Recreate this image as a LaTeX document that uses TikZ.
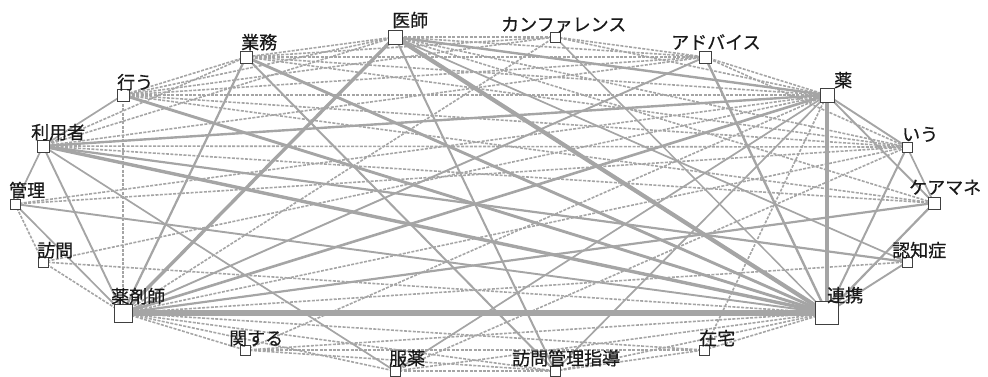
\documentclass[tikz,border=0pt]{standalone}
\usepackage{fontspec}
\setmainfont{Noto Sans CJK JP}
\newfontfamily\labfont{Noto Sans CJK JP}[FakeBold=0.6]
\pgfdeclarelayer{edgelayer}
\pgfsetlayers{edgelayer,main}
\begin{document}
\begin{tikzpicture}[x=1pt,y=-1pt,
  sq/.style={draw=black!75,fill=white,line width=1pt,inner sep=0pt,shape=rectangle},
  lab/.style={inner sep=0pt,anchor=base west,font=\labfont\fontsize{18}{18}\selectfont,text=black!90},
  sol/.style={draw=edgec,line width=#1},
  sol/.default=1.8pt,
  dsh/.style={draw=edgec,line width=1.6pt,dash pattern=on 3pt off 1.4pt}]
\definecolor{edgec}{RGB}{165,165,165}
\useasboundingbox (0,0) rectangle (988,376);
% nodes
\node[sq,minimum size=14pt] (ishi) at (395,37) {};
\node[sq,minimum size=10pt] (conf) at (555,37) {};
\node[sq,minimum size=12pt] (gyomu) at (246,57) {};
\node[sq,minimum size=12pt] (adv) at (705,57) {};
\node[sq,minimum size=12pt] (okonau) at (123,95) {};
\node[sq,minimum size=14pt] (kusuri) at (827,95) {};
\node[sq,minimum size=12pt] (riyo) at (43,146) {};
\node[sq,minimum size=10pt] (iu) at (907,147) {};
\node[sq,minimum size=10pt] (kanri) at (15,204) {};
\node[sq,minimum size=12pt] (care) at (934,203) {};
\node[sq,minimum size=10pt] (houmon) at (43,262) {};
\node[sq,minimum size=10pt] (ninchi) at (907,262) {};
\node[sq,minimum size=18pt] (yaku) at (123,313) {};
\node[sq,minimum size=23pt] (renkei) at (827,313) {};
\node[sq,minimum size=10pt] (kansuru) at (245,350) {};
\node[sq,minimum size=10pt] (zaitaku) at (704,350) {};
\node[sq,minimum size=10pt] (fuku) at (395,371) {};
\node[sq,minimum size=10pt] (hkanri) at (555,371) {};
% labels
\node[lab] (l-ishi) at (392,27) {医師};
\node[lab] (l-conf) at (501,31) {カンファレンス};
\node[lab] (l-gyomu) at (241,49) {業務};
\node[lab] (l-adv) at (671,49) {アドバイス};
\node[lab] (l-okonau) at (117,89) {行う};
\node[lab] (l-kusuri) at (834,87) {薬};
\node[lab] (l-riyo) at (31,139) {利用者};
\node[lab] (l-iu) at (902,141) {いう};
\node[lab] (l-kanri) at (9,197) {管理};
\node[lab] (l-care) at (909,194) {ケアマネ};
\node[lab] (l-houmon) at (37,257) {訪問};
\node[lab] (l-ninchi) at (892,257) {認知症};
\node[lab] (l-yaku) at (111,303) {薬剤師};
\node[lab] (l-renkei) at (827,302) {連携};
\node[lab] (l-kansuru) at (229,345) {関する};
\node[lab] (l-zaitaku) at (699,345) {在宅};
\node[lab] (l-fuku) at (389,365) {服薬};
\node[lab] (l-hkanri) at (512,365) {訪問管理指導};
\begin{pgfonlayer}{edgelayer}
% dashed edges
\foreach \a/\b in {ishi/conf,ishi/adv,ishi/gyomu,ishi/okonau,ishi/iu,ishi/care,ishi/riyo,
  gyomu/okonau,gyomu/adv,gyomu/kusuri,gyomu/conf,gyomu/iu,
  okonau/kusuri,okonau/adv,okonau/conf,okonau/iu,okonau/yaku,okonau/care,
  riyo/gyomu,riyo/iu,riyo/adv,riyo/care,
  kanri/houmon,kanri/iu,kanri/kusuri,
  houmon/renkei,houmon/yaku,houmon/kusuri,
  yaku/kansuru,yaku/fuku,yaku/hkanri,yaku/zaitaku,yaku/iu,yaku/ninchi,yaku/conf,
  kansuru/renkei,kansuru/kusuri,kansuru/hkanri,kansuru/zaitaku,
  fuku/hkanri,fuku/renkei,fuku/iu,
  hkanri/renkei,hkanri/zaitaku,
  zaitaku/renkei,zaitaku/kusuri,
  adv/kusuri,adv/iu,conf/kusuri,conf/adv}
  \draw[dsh] (\a.center) -- (\b.center);
% solid edges
\foreach \a/\b/\w in {yaku/renkei/5.5,ishi/renkei/4.2,kusuri/renkei/4.2,riyo/renkei/3.4,
  ishi/yaku/3.4,gyomu/renkei/2.9,okonau/renkei/2.9,yaku/kusuri/2.6,riyo/kusuri/2.4,
  ishi/kusuri/2.4,adv/renkei/2.4,gyomu/yaku/2.2,gyomu/hkanri/2.0,ishi/hkanri/2.0,
  yaku/care/2.2,renkei/care/2.2,renkei/iu/2.0,renkei/ninchi/1.9,kusuri/iu/1.9,
  kusuri/care/1.9,iu/care/1.7,riyo/kanri/1.7,riyo/yaku/1.9,kanri/renkei/1.9,
  okonau/riyo/1.7,riyo/fuku/1.7,yaku/adv/1.9,fuku/kusuri/1.7,hkanri/kusuri/1.7,
  ishi/ninchi/1.7,conf/renkei/1.5,riyo/ninchi/2.2,kanri/yaku/1.7}
  \draw[sol=\w pt] (\a.center) -- (\b.center);
\end{pgfonlayer}
\end{tikzpicture}
\end{document}
